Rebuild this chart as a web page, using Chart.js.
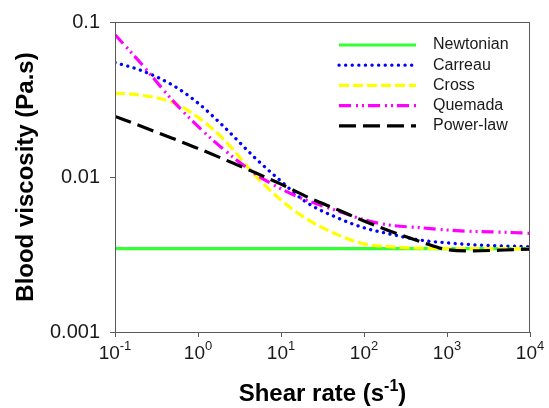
<!DOCTYPE html>
<html>
<head>
<meta charset="utf-8">
<script src="https://cdn.jsdelivr.net/npm/chart.js@4.4.1/dist/chart.umd.min.js"></script>
<style>
  html, body { margin: 0; padding: 0; background: #fff; }
  #wrap { width: 549px; height: 408px; }
</style>
</head>
<body>
<div id="wrap"><canvas id="myChart" width="549" height="408"></canvas></div>
<script>
// values
const shearRate = [0.1, 0.2, 0.5, 1, 2, 5, 10, 20, 50, 100, 200, 500, 1000, 2000, 5000, 10000];
const newtonian = [0.00345, 0.00345, 0.00345, 0.00345, 0.00345, 0.00345, 0.00345, 0.00345,
                   0.00345, 0.00345, 0.00345, 0.00345, 0.00345, 0.00345, 0.00345, 0.00345];
const carreau   = [0.0547, 0.049, 0.039, 0.030, 0.0214, 0.0131, 0.0094, 0.0069,
                   0.0054, 0.0047, 0.0043, 0.0039, 0.00376, 0.00366, 0.00359, 0.00355];
const cross     = [0.0348, 0.0338, 0.0302, 0.0243, 0.0177, 0.0101, 0.0071, 0.0054,
                   0.0042, 0.0037, 0.00355, 0.00347, 0.00345, 0.00345, 0.00345, 0.00345];
const quemada   = [0.0828, 0.055, 0.031, 0.0212, 0.0152, 0.0104, 0.0084, 0.0071,
                   0.0060, 0.0053, 0.0049, 0.0047, 0.00455, 0.00446, 0.0044, 0.00433];
const powerLaw  = [0.0246, 0.0214, 0.0177, 0.0153, 0.0131, 0.0106, 0.0090, 0.0075,
                   0.0061, 0.0052, 0.0045, 0.0038, 0.0034, 0.00334, 0.00338, 0.00343];
const seriesNames = ['Newtonian', 'Carreau', 'Cross', 'Quemada', 'Power-law'];
const xTicks = [0.1, 1, 10, 100, 1000, 10000];
const yTicks = [0.001, 0.01, 0.1];

const FONT = '"Liberation Sans", Arial, Helvetica, sans-serif';
const AXIS = '#5a5a5a';

function pts(ys) {
    return shearRate.map((x, i) => ({x: x, y: ys[i]}));
}

// frame, x tick labels with exponents, x title, legend inside plot
const decorations = {
    id: 'decorations',
    afterDraw(chart) {
        const ctx = chart.ctx;
        const a = chart.chartArea;
        ctx.save();
        ctx.strokeStyle = AXIS;
        ctx.lineWidth = 1;
        ctx.strokeRect(a.left + 0.5, a.top + 0.5, a.right - a.left - 1, a.bottom - a.top);

        // x tick labels 10^n
        const xs = chart.scales.x;
        ctx.fillStyle = '#1a1a1a';
        ctx.textBaseline = 'alphabetic';
        ctx.textAlign = 'left';
        xs.ticks.forEach(t => {
            const px = xs.getPixelForValue(t.value);
            const e = String(Math.round(Math.log10(t.value)));
            ctx.font = '19px ' + FONT;
            const wb = ctx.measureText('10').width;
            ctx.font = '13px ' + FONT;
            const we = ctx.measureText(e).width;
            const x0 = px - (wb + we) / 2;
            ctx.font = '19px ' + FONT;
            ctx.fillText('10', x0, a.bottom + 27);
            ctx.font = '13px ' + FONT;
            ctx.fillText(e, x0 + wb, a.bottom + 18);
        });

        // x title
        const t1 = 'Shear rate (s', t2 = '-1', t3 = ')';
        ctx.font = 'bold 24px ' + FONT;
        const w1 = ctx.measureText(t1).width, w3 = ctx.measureText(t3).width;
        ctx.font = 'bold 16px ' + FONT;
        const w2 = ctx.measureText(t2).width;
        let tx = (a.left + a.right) / 2 - (w1 + w2 + w3) / 2;
        const ty = a.bottom + 69;
        ctx.fillStyle = '#000';
        ctx.font = 'bold 24px ' + FONT;
        ctx.fillText(t1, tx, ty);
        ctx.font = 'bold 16px ' + FONT;
        ctx.fillText(t2, tx + w1, ty - 10);
        ctx.font = 'bold 24px ' + FONT;
        ctx.fillText(t3, tx + w1 + w2, ty);

        // legend
        const lx0 = a.right - 191, lx1 = a.right - 114, txtX = a.right - 97;
        ctx.font = '16px ' + FONT;
        ctx.textBaseline = 'middle';
        chart.data.datasets.forEach((ds, i) => {
            const y = a.top + 23 + i * 20.2;
            ctx.beginPath();
            ctx.strokeStyle = ds.borderColor;
            ctx.lineWidth = ds.borderWidth;
            ctx.lineCap = ds.borderCapStyle || 'butt';
            ctx.setLineDash(ds.borderDash || []);
            ctx.moveTo(lx0, y);
            ctx.lineTo(lx1, y);
            ctx.stroke();
            ctx.setLineDash([]);
            ctx.fillStyle = '#1a1a1a';
            ctx.fillText(ds.label, txtX, y);
        });
        ctx.restore();
    }
};

const ctx = document.getElementById('myChart');
new Chart(ctx, {
    type: 'line',
    data: {
        datasets: [
            {label: seriesNames[0], data: pts(newtonian), borderColor: '#33ff33', borderWidth: 3.2, order: 5},
            {label: seriesNames[1], data: pts(carreau), borderColor: '#0000ff', borderWidth: 3.3,
             borderDash: [0.1, 6.5], borderCapStyle: 'round', order: 4},
            {label: seriesNames[2], data: pts(cross), borderColor: '#ffff00', borderWidth: 3.2,
             borderDash: [10, 4], order: 3},
            {label: seriesNames[3], data: pts(quemada), borderColor: '#ff00ff', borderWidth: 3.2,
             borderDash: [12, 5, 2, 4, 2, 4], order: 2},
            {label: seriesNames[4], data: pts(powerLaw), borderColor: '#000000', borderWidth: 3.2,
             borderDash: [17, 7], order: 1}
        ]
    },
    options: {
        responsive: false,
        animation: false,
        parsing: false,
        layout: {padding: {top: 21, right: 19, left: 0, bottom: 0}},
        elements: {
            point: {radius: 0, hoverRadius: 0},
            line: {cubicInterpolationMode: 'monotone', fill: false}
        },
        plugins: {legend: {display: false}, tooltip: {enabled: false}},
        scales: {
            x: {
                type: 'logarithmic',
                min: 0.1, max: 10000,
                afterBuildTicks: s => { s.ticks = xTicks.map(v => ({value: v})); },
                afterFit: s => { s.height = 76; },
                ticks: {display: false},
                grid: {drawOnChartArea: false, drawTicks: true, tickLength: 5, color: AXIS},
                border: {display: true, color: AXIS, width: 1}
            },
            y: {
                type: 'logarithmic',
                min: 0.001, max: 0.1,
                afterBuildTicks: s => { s.ticks = yTicks.map(v => ({value: v})); },
                afterFit: s => { s.width = 115; },
                ticks: {
                    padding: 10,
                    color: '#1a1a1a',
                    font: {family: FONT, size: 20},
                    callback: v => String(v)
                },
                grid: {drawOnChartArea: false, drawTicks: true, tickLength: 5, color: AXIS},
                border: {display: true, color: AXIS, width: 1},
                title: {
                    display: true,
                    text: 'Blood viscosity (Pa.s)',
                    color: '#000',
                    font: {family: FONT, size: 24, weight: 'bold'},
                    padding: {top: 12, bottom: 0}
                }
            }
        }
    },
    plugins: [decorations]
});
</script>
</body>
</html>
